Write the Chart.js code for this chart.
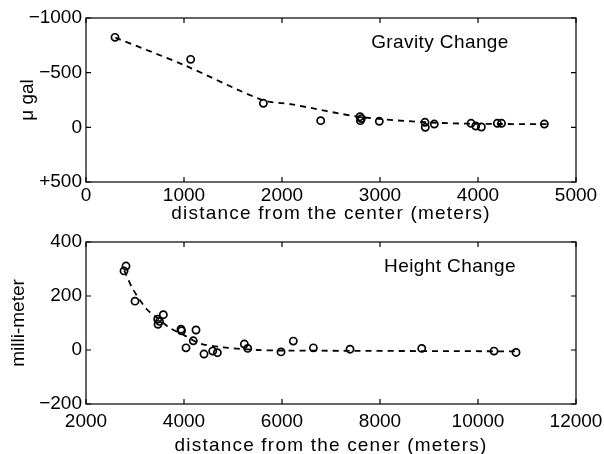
<!DOCTYPE html>
<html>
<head>
<meta charset="utf-8">
<script src="https://cdn.jsdelivr.net/npm/chart.js@4/dist/chart.umd.min.js"></script>
<style>
  body { margin: 0; background: #fff; overflow: hidden; }
  .box { position: absolute; left: 0; width: 604px; }
  #top { top: 0; height: 226px; }
  #bot { top: 224px; height: 234px; }
</style>
</head>
<body>
<div class="box" id="top"><canvas id="gravity"></canvas></div>
<div class="box" id="bot"><canvas id="height"></canvas></div>
<script>
// GRAVITY CHANGE (micro gal, axis reversed)
const gravX = [296, 1068, 1810, 2395, 2796, 2800, 2810, 2993, 3459, 3462, 3554, 3929, 3977, 4034, 4197, 4240, 4677];
const gravY = [-823, -622, -220, -61, -97, -61, -80, -55, -46, 0, -30, -37, -12, -3, -37, -37, -30];
const gravFitX = [300, 1000, 1800, 2100, 2800, 3500, 4000, 4700];
const gravFitY = [-820, -570, -250, -210, -95, -45, -32, -30];
const gravXTicks = [0, 1000, 2000, 3000, 4000, 5000];
const gravYTicks = [-1000, -500, 0, 500];

// HEIGHT CHANGE (millimeter)
const hgtX = [2816, 2776, 3000, 3463, 3470, 3578, 3500, 3939, 3950, 4041, 4245, 4190, 4408, 4586, 4680, 5231, 5300, 5980, 6231, 6640, 7388, 8852, 10327, 10776];
const hgtY = [311, 293, 181, 114, 95, 131, 106, 77, 71, 8, 74, 34, -15, -4, -10, 22, 6, -7, 33, 8, 3, 6, -4, -9];
const hgtFitX = [2780, 2950, 3240, 3500, 3710, 4000, 4330, 4800, 5500, 6000, 10800];
const hgtFitY = [295, 228, 151, 112, 82, 55, 24, 10, 0, -2, -5];
const hgtXTicks = [2000, 4000, 6000, 8000, 10000, 12000];
const hgtYTicks = [-200, 0, 200, 400];

const FONT = "'Liberation Sans', Arial, Helvetica, sans-serif";

function toPts(xs, ys) {
  return xs.map((x, i) => ({ x: x, y: ys[i] }));
}

function fmtY(v) {
  if (v > 0 && this.chart.canvas.id === "gravity") return "+" + v;
  return v < 0 ? "\u2212" + Math.abs(v) : "" + v;
}

// titulo del eje x un poco mas espaciado (como el original)
const spacedTitle = {
  id: "spacedTitle",
  beforeDraw(chart) {
    const sx = chart.scales.x;
    if (sx._spaced) return;
    const orig = sx.drawTitle;
    sx.drawTitle = function () {
      const c = this.ctx;
      c.save();
      c.letterSpacing = "1.2px";
      orig.call(this);
      c.restore();
    };
    sx._spaced = true;
  }
};

// marco y ticks hacia dentro (estilo matlab)
const frameTicks = {
  id: "frameTicks",
  afterDraw(chart, args, opts) {
    const ctx = chart.ctx;
    const a = chart.chartArea;
    const sx = chart.scales.x, sy = chart.scales.y;
    ctx.save();
    ctx.strokeStyle = "#000";
    ctx.lineWidth = 1.2;
    ctx.strokeRect(a.left, a.top, a.right - a.left, a.bottom - a.top);
    const len = 5;
    ctx.beginPath();
    sx.ticks.forEach(t => {
      const p = sx.getPixelForValue(t.value);
      ctx.moveTo(p, a.bottom); ctx.lineTo(p, a.bottom - len);
      ctx.moveTo(p, a.top); ctx.lineTo(p, a.top + len);
    });
    sy.ticks.forEach(t => {
      const p = sy.getPixelForValue(t.value);
      ctx.moveTo(a.left, p); ctx.lineTo(a.left + len, p);
      ctx.moveTo(a.right, p); ctx.lineTo(a.right - len, p);
    });
    ctx.stroke();
    // texto dentro del grafico
    ctx.fillStyle = "#000";
    ctx.font = "19px " + FONT;
    ctx.letterSpacing = "0.4px";
    ctx.textAlign = "center";
    ctx.textBaseline = "middle";
    ctx.fillText(opts.text, sx.getPixelForValue(opts.x), sy.getPixelForValue(opts.y));
    ctx.restore();
  }
};

function makeChart(id, pts, fit, xs, ys, label) {
  return new Chart(document.getElementById(id).getContext("2d"), {
    type: "scatter",
    data: {
      datasets: [
        {
          data: pts,
          showLine: false,
          pointRadius: 3.6,
          pointBorderWidth: 1.7,
          pointBorderColor: "#000",
          pointBackgroundColor: "rgba(0,0,0,0)",
        },
        {
          data: fit,
          showLine: true,
          borderColor: "#000",
          borderWidth: 1.8,
          borderDash: [6, 5],
          pointRadius: 0,
          tension: 0.3,
        },
      ],
    },
    options: {
      responsive: true,
      maintainAspectRatio: false,
      animation: false,
      layout: { padding: { top: 18, right: 28, bottom: 0, left: 0 } },
      plugins: {
        legend: { display: false },
        tooltip: { enabled: false },
        frameTicks: label,
      },
      scales: {
        x: {
          type: "linear",
          min: xs.ticks[0],
          max: xs.ticks[xs.ticks.length - 1],
          afterBuildTicks: s => { s.ticks = xs.ticks.map(v => ({ value: v })); },
          grid: { display: false, drawTicks: false },
          border: { display: false },
          ticks: { color: "#000", font: { family: FONT, size: 19 }, padding: xs.pad, maxRotation: 0, autoSkip: false, callback: v => "" + v },
          title: { display: true, text: xs.title, color: "#000", font: { family: FONT, size: 19 }, padding: { top: 0, bottom: 1 } },
          afterFit: s => { s.height = xs.height; s.paddingLeft = 0; s.paddingRight = 0; },
        },
        y: {
          type: "linear",
          min: ys.ticks[0],
          max: ys.ticks[ys.ticks.length - 1],
          reverse: ys.reverse,
          afterBuildTicks: s => { s.ticks = ys.ticks.map(v => ({ value: v })); },
          grid: { display: false, drawTicks: false },
          border: { display: false },
          ticks: { color: "#000", font: { family: FONT, size: 19 }, padding: 4, autoSkip: false, callback: fmtY },
          title: { display: true, text: ys.title, color: "#000", font: { family: FONT, size: 19 }, padding: { top: ys.titlePad, bottom: 0 } },
          afterFit: s => { s.width = 86; s.paddingTop = 0; s.paddingBottom = 0; },
        },
      },
    },
    plugins: [frameTicks, spacedTitle],
  });
}

makeChart("gravity",
  toPts(gravX, gravY), toPts(gravFitX, gravFitY),
  { title: "distance from the center (meters)", ticks: gravXTicks, pad: 2, height: 44 },
  { title: "\u03bc gal", ticks: gravYTicks, reverse: true, titlePad: 16 },
  { text: "Gravity Change", x: 3612, y: -774 }
);

makeChart("height",
  toPts(hgtX, hgtY), toPts(hgtFitX, hgtFitY),
  { title: "distance from the cener (meters)", ticks: hgtXTicks, pad: 6, height: 54 },
  { title: "milli-meter", ticks: hgtYTicks, reverse: false, titlePad: 7 },
  { text: "Height Change", x: 9429, y: 308 }
);
</script>
</body>
</html>
